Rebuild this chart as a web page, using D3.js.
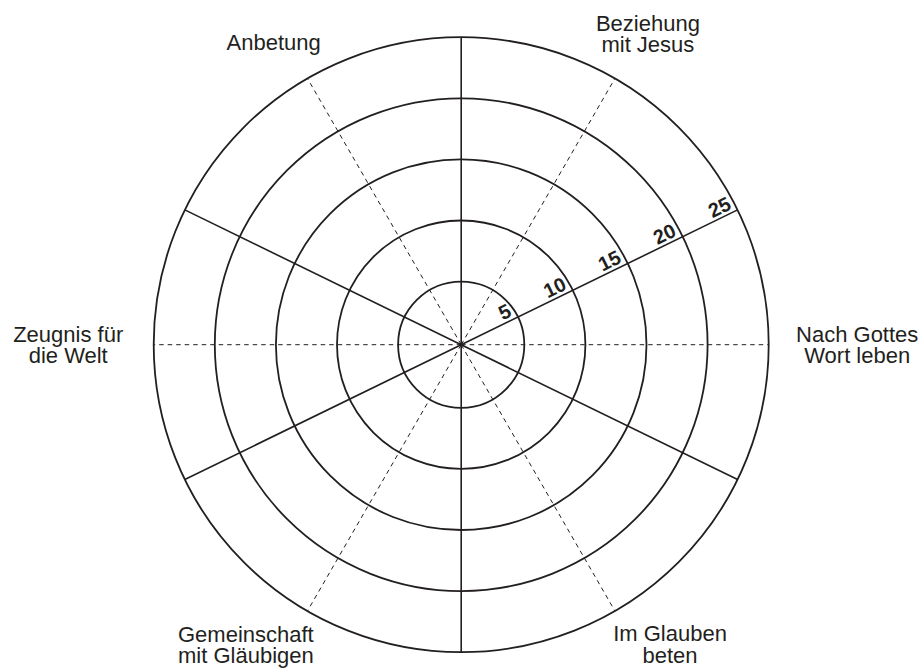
<!DOCTYPE html>
<html>
<head>
<meta charset="utf-8">
<script src="https://cdn.jsdelivr.net/npm/d3@7"></script>
<style>
  html, body { margin: 0; padding: 0; background: #fff; }
  svg { display: block; }
</style>
</head>
<body>
<script>
// ---- data ----
const categories = [
  ["Nach Gottes", "Wort leben"],
  ["Beziehung", "mit Jesus"],
  ["Anbetung"],
  ["Zeugnis für", "die Welt"],
  ["Gemeinschaft", "mit Gläubigen"],
  ["Im Glauben", "beten"]
];
const ringValues = [5, 10, 15, 20, 25];
const tickLabels = ["5", "10", "15", "20", "25"];
const maxValue = 25;

// ---- layout ----
const W = 923, H = 668;
const cx = 461.2, cy = 344.7;
const outerR = 307.5;
const boundaryTilt = 26;              // solid spokes tilt (deg)
const labelRadius = [396, 363, 356, 393, 369, 365];
const labelAngleNudge = [0, -0.95, 1.8, 0, -5.7, 4.9];
const ink = "#231f20";

const svg = d3.select("body").append("svg")
  .attr("width", W).attr("height", H);

const r = d3.scaleLinear().domain([0, maxValue]).range([2, outerR]);
const catAngle = d3.scaleLinear().domain([0, categories.length]).range([0, 360]);

const rad = d => d * Math.PI / 180;
const px = (a, rr) => cx + rr * Math.cos(rad(a));
const py = (a, rr) => cy - rr * Math.sin(rad(a));

const g = svg.append("g");

// dashed spokes along categories
g.selectAll("line.dash").data(categories).join("line")
  .attr("class", "dash")
  .attr("x1", cx).attr("y1", cy)
  .attr("x2", (d, i) => px(catAngle(i), r(maxValue)))
  .attr("y2", (d, i) => py(catAngle(i), r(maxValue)))
  .attr("stroke", ink).attr("stroke-width", 1)
  .attr("stroke-dasharray", "4.5,4");

// solid spokes (sector boundaries)
const solidAngles = [90, 270, boundaryTilt, -boundaryTilt, 180 - boundaryTilt, 180 + boundaryTilt];
g.selectAll("line.solid").data(solidAngles).join("line")
  .attr("class", "solid")
  .attr("x1", cx).attr("y1", cy)
  .attr("x2", a => px(a, r(maxValue)))
  .attr("y2", a => py(a, r(maxValue)))
  .attr("stroke", ink).attr("stroke-width", 1.6);

// rings
g.selectAll("circle.ring").data(ringValues).join("circle")
  .attr("class", "ring")
  .attr("cx", cx).attr("cy", cy)
  .attr("r", v => r(v))
  .attr("fill", "none")
  .attr("stroke", ink).attr("stroke-width", 1.8);

// tick labels along tilted solid spoke
g.selectAll("text.tick").data(ringValues).join("text")
  .attr("class", "tick")
  .attr("transform", `translate(${cx},${cy}) rotate(${-boundaryTilt})`)
  .attr("x", v => r(v) - 4)
  .attr("y", -3.5)
  .attr("text-anchor", "end")
  .attr("font-family", "Liberation Sans, Arial, Helvetica, sans-serif")
  .attr("font-weight", "bold")
  .attr("font-size", 20)
  .attr("fill", ink)
  .text((v, i) => tickLabels[i]);

// category labels
const lineH = 21.5;
const labels = g.selectAll("text.cat").data(categories).join("text")
  .attr("class", "cat")
  .attr("text-anchor", "middle")
  .attr("font-family", "Liberation Sans, Arial, Helvetica, sans-serif")
  .attr("font-size", 22)
  .attr("fill", ink)
  .each(function(lines, i) {
    const a = catAngle(i) + labelAngleNudge[i];
    const x = px(a, labelRadius[i]);
    const ym = py(a, labelRadius[i]);
    const b1 = ym + 8 - (lines.length - 1) * lineH / 2;
    d3.select(this).selectAll("tspan").data(lines).join("tspan")
      .attr("x", x)
      .attr("y", (d, j) => b1 + j * lineH)
      .text(d => d);
  });
</script>
</body>
</html>
